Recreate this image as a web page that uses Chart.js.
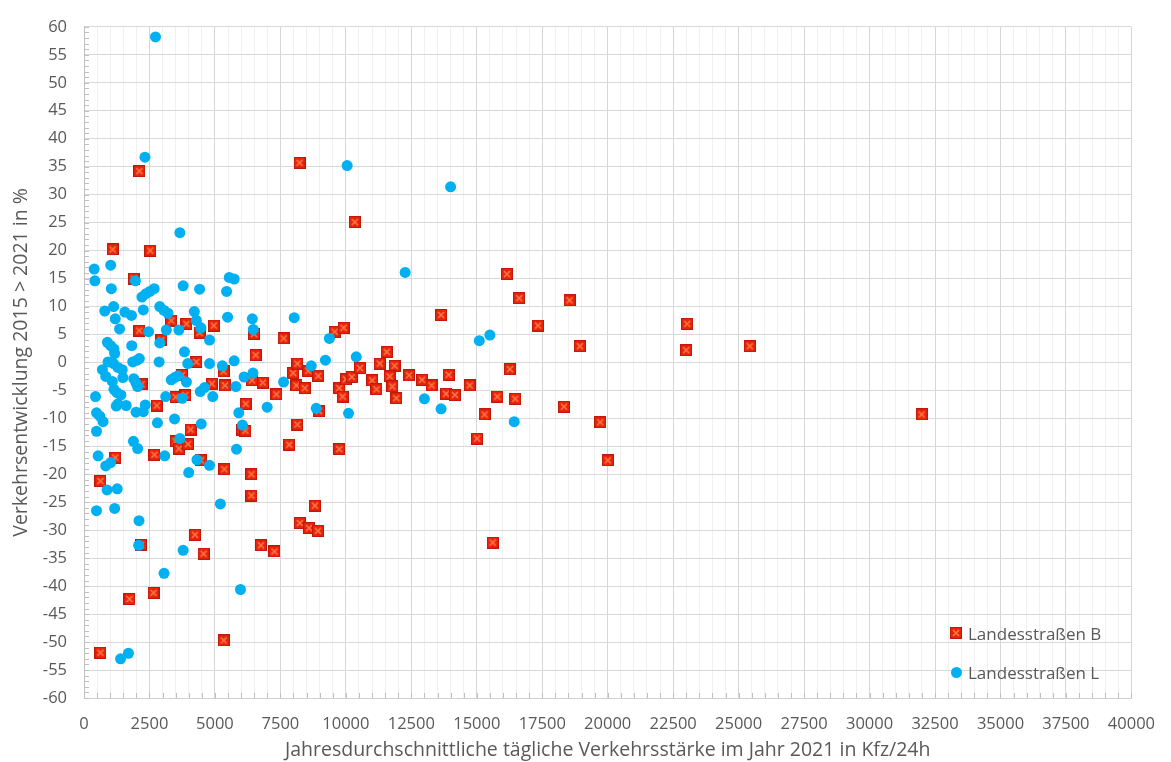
<!DOCTYPE html>
<html>
<head>
<meta charset="utf-8">
<script src="https://cdn.jsdelivr.net/npm/chart.js@4.4.1/dist/chart.umd.min.js"></script>
<style>
  html, body { margin: 0; padding: 0; background: #fff; }
  #wrap { position: relative; width: 1171px; height: 762px; }
  #legend { position: absolute; left: 950px; top: 622px; font: 17px "Open Sans", sans-serif; color: #595959; }
  .item { display: flex; align-items: center; height: 22px; margin-bottom: 17px; }
  .item canvas { width: 12px; height: 12px; margin-right: 6px; }
  .dot { width: 11px; height: 11px; border-radius: 50%; background: #00b0f0; margin: 0 6px 0 1px; }
</style>
</head>
<body>
<div id="wrap">
  <canvas id="chart" width="1171" height="762"></canvas>
  <div id="legend">
    <div class="item"><canvas id="mkB" width="12" height="12"></canvas><span>Landesstraßen B</span></div>
    <div class="item"><span class="dot"></span><span>Landesstraßen L</span></div>
  </div>
</div>
<script>
// Landesstraßen B (x = DTV 2021, y = Entwicklung in %)
const xB = [1094, 2530, 2113, 8230, 10340, 1900, 2113, 2955, 3333, 3912, 4415, 4956, 6491, 6555, 7623, 9573, 9913, 11560,
  4290, 5333, 3748, 2200, 4880, 5384, 6415, 6830, 7348, 7988, 8150, 8112, 8430, 8567, 8944, 8970, 9748, 9876, 10001,
  10227, 10540, 11009, 11170, 11296, 11862, 11673, 11775, 11926, 2780, 3497, 3875, 6177, 4069, 6038, 6162, 8150,
  3497, 3623, 3974, 7837, 9748, 1195, 2692, 4466, 629, 5359, 6390, 6390, 2177, 4238, 4566, 6755, 7272, 8240, 8593,
  8932, 8819, 1736, 2655, 5333, 629, 16153, 16618, 18543, 13637, 17336, 23033, 18935, 22996, 25425, 12416, 12907,
  13272, 13926, 13825, 14165, 14730, 16266, 15788, 16467, 15296, 15009, 18330, 19713, 20002, 31990, 15607];
const yB = [20.2, 20.0, 34.2, 35.7, 25.1, 15.0, 5.7, 4.0, 7.5, 6.9, 5.3, 6.6, 5.1, 1.3, 4.3, 5.5, 6.2, 1.9,
  0.1, -1.6, -2.2, -3.9, -3.8, -4.1, -3.2, -3.6, -5.7, -1.9, -0.2, -4.1, -4.6, -1.5, -2.4, -8.7, -4.6, -6.1, -3.0,
  -2.6, -1.0, -3.2, -4.8, -0.2, -0.6, -2.5, -4.3, -6.4, -7.7, -6.2, -5.8, -7.4, -12.0, -12.0, -12.2, -11.1,
  -14.1, -15.4, -14.6, -14.7, -15.5, -17.0, -16.5, -17.5, -21.2, -19.1, -20.0, -23.8, -32.6, -30.8, -34.2, -32.7, -33.8, -28.7, -29.6,
  -30.1, -25.6, -42.3, -41.2, -49.7, -51.9, 15.8, 11.5, 11.1, 8.5, 6.6, 6.9, 2.9, 2.2, 2.9, -2.3, -3.1,
  -4.1, -2.2, -5.6, -5.8, -4.1, -1.2, -6.1, -6.5, -9.3, -13.6, -7.9, -10.7, -17.5, -9.3, -32.2];

// Landesstraßen L
const xL = [2730, 2328, 3661, 10050, 14000, 12265, 15096, 15500, 13000, 13637, 16430, 390, 415, 1019, 1044, 1962,
  2213, 2365, 2516, 2680, 2264, 792, 1132, 1195, 1358, 1560, 1812, 2466, 3786, 4415, 2894, 3057, 3208, 4214, 4290,
  4465, 3145, 3623, 4793, 5484, 5446, 5548, 5736, 6428, 6466, 8027, 9371, 10397, 9220, 8680, 893, 1019, 1144, 1170,
  1823, 1862, 2027, 2113, 2894, 2868, 3836, 3962, 4793, 5283, 5736, 6453, 6114, 918, 1132, 1296, 1460, 704, 830,
  1082, 1484, 1900, 1988, 2050, 1144, 1258, 1409, 440, 1233, 1296, 1610, 1988, 2264, 2340, 3333, 3459, 3585, 3912,
  3120, 3748, 4440, 4604, 4918, 5799, 5912, 6050, 6994, 8869, 10102, 7623, 478, 604, 729, 478, 540, 1887, 2050,
  2804, 3459, 4478, 3661, 3083, 4314, 4793, 5824, 830, 1019, 4000, 880, 1270, 478, 1170, 2100, 2088, 3786, 3057,
  5975, 5208, 1396, 1698];
const yL = [58.2, 36.7, 23.2, 35.2, 31.4, 16.1, 3.9, 4.9, -6.5, -8.3, -10.6, 16.7, 14.6, 17.4, 13.2, 14.6,
  11.7, 12.3, 12.7, 13.2, 9.4, 9.2, 10.0, 7.8, 6.0, 9.0, 8.4, 5.5, 13.7, 13.1, 10.0, 9.3, 8.8, 9.1, 7.5,
  6.2, 5.8, 5.8, 4.0, 8.1, 12.7, 15.2, 14.9, 7.8, 5.9, 8.0, 4.3, 1.0, 0.4, -0.6, 3.6, 3.0, 2.4, 1.6,
  3.0, 0.1, 0.4, 0.7, 3.5, 0.1, 1.9, -0.2, -0.2, -0.6, 0.3, -1.9, -2.6, 0.1, -0.2, -0.9, -1.3, -1.3, -2.5,
  -3.4, -2.7, -2.9, -3.7, -4.3, -4.8, -5.4, -5.8, -6.1, -7.8, -7.4, -7.7, -8.9, -8.8, -7.6, -3.1, -2.7, -2.4, -3.5,
  -6.1, -6.4, -5.2, -4.5, -6.1, -4.3, -9.0, -11.2, -8.0, -8.2, -9.1, -3.5, -9.0, -9.6, -10.6, -12.3, -16.7, -14.1, -15.4,
  -10.8, -10.1, -11.0, -13.6, -16.7, -17.4, -18.4, -15.5, -18.5, -17.9, -19.7, -22.8, -22.6, -26.5, -26.1, -28.3, -32.7, -33.6, -37.7,
  -40.6, -25.3, -53.0, -52.0];

const xTickLabels = [0, 2500, 5000, 7500, 10000, 12500, 15000, 17500, 20000, 22500, 25000, 27500, 30000, 32500, 35000, 37500, 40000];
const yTickLabels = [-60, -55, -50, -45, -40, -35, -30, -25, -20, -15, -10, -5, 0, 5, 10, 15, 20, 25, 30, 35, 40, 45, 50, 55, 60];

const grey = "#595959";
const fontFamily = '"Open Sans", sans-serif';

function drawRedMarker(c) {
  const g = c.getContext("2d");
  g.clearRect(0, 0, 12, 12);
  g.fillStyle = "#e8240c";
  g.fillRect(0, 0, 12, 12);
  g.strokeStyle = "#c0180a";
  g.lineWidth = 1;
  g.strokeRect(0.5, 0.5, 11, 11);
  g.strokeStyle = "#ff7a45";
  g.lineWidth = 1.6;
  g.beginPath();
  g.moveTo(3, 3); g.lineTo(9, 9);
  g.moveTo(9, 3); g.lineTo(3, 9);
  g.stroke();
  return c;
}

const redMarker = document.createElement("canvas");
redMarker.width = 12; redMarker.height = 12;
drawRedMarker(redMarker);
drawRedMarker(document.getElementById("mkB"));

const ptsB = xB.map((x, i) => ({ x, y: yB[i] }));
const ptsL = xL.map((x, i) => ({ x, y: yL[i] }));

// small minor tick marks inside the plot, like the original
const minorTicks = {
  id: "minorTicks",
  beforeDatasetsDraw(chart) {
    const { ctx, chartArea: a, scales: { x, y } } = chart;
    ctx.save();
    ctx.strokeStyle = "#bfbfbf";
    ctx.lineWidth = 1;
    ctx.beginPath();
    for (let v = -60; v <= 60; v++) {
      const py = Math.round(y.getPixelForValue(v)) + 0.5;
      ctx.moveTo(a.left, py); ctx.lineTo(a.left + 5, py);
    }
    for (let v = 0; v <= 40000; v += 500) {
      const px = Math.round(x.getPixelForValue(v)) + 0.5;
      ctx.moveTo(px, a.bottom); ctx.lineTo(px, a.bottom - 5);
    }
    ctx.stroke();
    ctx.restore();
  }
};

new Chart(document.getElementById("chart"), {
  type: "scatter",
  data: {
    datasets: [
      {
        label: "Landesstraßen L",
        data: ptsL,
        pointStyle: "circle",
        pointRadius: 5.5,
        backgroundColor: "#00b0f0",
        borderColor: "#00b0f0",
        borderWidth: 0,
        order: 0
      },
      {
        label: "Landesstraßen B",
        data: ptsB,
        pointStyle: redMarker,
        pointRadius: 6,
        order: 1
      }
    ]
  },
  options: {
    responsive: false,
    animation: false,
    layout: { padding: { top: 22, right: 27, left: 0, bottom: 0 } },
    plugins: { legend: { display: false }, tooltip: { enabled: false } },
    scales: {
      x: {
        type: "linear",
        min: 0,
        max: 40000,
        ticks: {
          stepSize: 500,
          autoSkip: false,
          maxRotation: 0,
          minRotation: 0,
          padding: 16,
          color: grey,
          font: { family: fontFamily, size: 16.5 },
          callback: (v) => xTickLabels.includes(v) ? String(v) : ""
        },
        grid: {
          drawTicks: false,
          color: (c) => xTickLabels.includes(c.tick.value) ? "#d6d6d6" : "#f0f0f0",
          lineWidth: 1
        },
        border: { color: "#d0d0d0" },
        title: {
          display: true,
          text: "Jahresdurchschnittliche tägliche Verkehrsstärke im Jahr 2021 in Kfz/24h",
          color: grey,
          font: { family: fontFamily, size: 19.5 },
          padding: { top: 0, bottom: 0 }
        },
        afterFit: (s) => { s.height = 64; }
      },
      y: {
        type: "linear",
        min: -60,
        max: 60,
        ticks: {
          stepSize: 1,
          autoSkip: false,
          padding: 17,
          color: grey,
          font: { family: fontFamily, size: 16.5 },
          callback: (v) => yTickLabels.includes(v) ? String(v) : ""
        },
        grid: {
          drawTicks: false,
          color: (c) => yTickLabels.includes(c.tick.value) ? "#d9d9d9" : "rgba(0,0,0,0)",
          lineWidth: 1
        },
        border: { color: "#bfbfbf" },
        title: {
          display: true,
          text: "Verkehrsentwicklung 2015 > 2021 in %",
          color: grey,
          font: { family: fontFamily, size: 19.5 },
          padding: { top: 10, bottom: 0 }
        },
        afterFit: (s) => { s.width = 84; }
      }
    }
  },
  plugins: [minorTicks]
});
</script>
</body>
</html>
